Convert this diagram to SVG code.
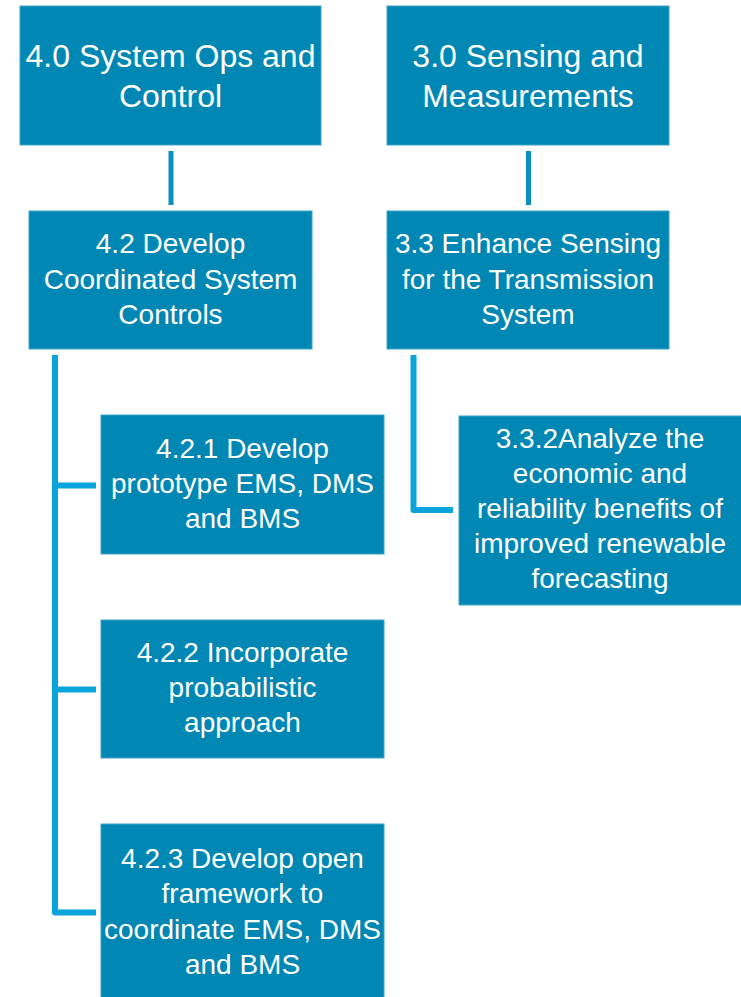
<svg xmlns="http://www.w3.org/2000/svg" width="741" height="997" viewBox="0 0 741 997">
<style>
.box{fill:#0087B3;stroke:#3FA3C9;stroke-width:1}
.t1{font-family:"Liberation Sans",Arial,sans-serif;font-size:32px;fill:#fff;text-anchor:middle}
.t2{font-family:"Liberation Sans",Arial,sans-serif;font-size:28px;fill:#fff;text-anchor:middle}
.c1{stroke:#0A8FC1;stroke-width:5;fill:none}
.c2{stroke:#0AA3DB;stroke-width:6;fill:none;stroke-linejoin:round}
</style>
<rect width="741" height="997" fill="#fff"/>
<g id="connectors">
<line class="c1" x1="171" y1="151" x2="171" y2="205"/>
<line class="c1" x1="528.5" y1="151" x2="528.5" y2="205"/>
<path class="c2" d="M55,355 V912.5 H96"/>
<line class="c2" x1="55" y1="485.5" x2="96" y2="485.5"/>
<line class="c2" x1="55" y1="689.5" x2="96" y2="689.5"/>
<path class="c2" d="M413.5,355 V510 H453" stroke-width="5.5"/>
</g>
<g id="n40">
<rect class="box" x="20" y="6" width="301" height="139"/>
<text class="t1" x="170.5" y="67">4.0 System Ops and</text>
<text class="t1" x="170.5" y="107">Control</text>
</g>
<g id="n30">
<rect class="box" x="387" y="6" width="282" height="139"/>
<text class="t1" x="528" y="67">3.0 Sensing and</text>
<text class="t1" x="528" y="107">Measurements</text>
</g>
<g id="n42">
<rect class="box" x="29" y="211" width="283" height="138"/>
<text class="t2" x="170.5" y="253">4.2 Develop</text>
<text class="t2" x="170.5" y="288.5">Coordinated System</text>
<text class="t2" x="170.5" y="324">Controls</text>
</g>
<g id="n33">
<rect class="box" x="387" y="211" width="282" height="138"/>
<text class="t2" x="528" y="253">3.3 Enhance Sensing</text>
<text class="t2" x="528" y="288.5">for the Transmission</text>
<text class="t2" x="528" y="324">System</text>
</g>
<g id="n421">
<rect class="box" x="101" y="415" width="283" height="139"/>
<text class="t2" x="242.5" y="458">4.2.1 Develop</text>
<text class="t2" x="242.5" y="493">prototype EMS, DMS</text>
<text class="t2" x="242.5" y="528">and BMS</text>
</g>
<g id="n422">
<rect class="box" x="101" y="620" width="283" height="138"/>
<text class="t2" x="242.5" y="662">4.2.2 Incorporate</text>
<text class="t2" x="242.5" y="697">probabilistic</text>
<text class="t2" x="242.5" y="732">approach</text>
</g>
<g id="n423">
<rect class="box" x="101" y="824" width="283" height="180"/>
<text class="t2" x="242.5" y="868">4.2.3 Develop open</text>
<text class="t2" x="242.5" y="903">framework to</text>
<text class="t2" x="242.5" y="939">coordinate EMS, DMS</text>
<text class="t2" x="242.5" y="974">and BMS</text>
</g>
<g id="n332">
<rect class="box" x="459" y="416" width="290" height="189"/>
<text class="t2" x="600" y="448">3.3.2Analyze the</text>
<text class="t2" x="600" y="483">economic and</text>
<text class="t2" x="600" y="518">reliability benefits of</text>
<text class="t2" x="600" y="553">improved renewable</text>
<text class="t2" x="600" y="588">forecasting</text>
</g>
</svg>
